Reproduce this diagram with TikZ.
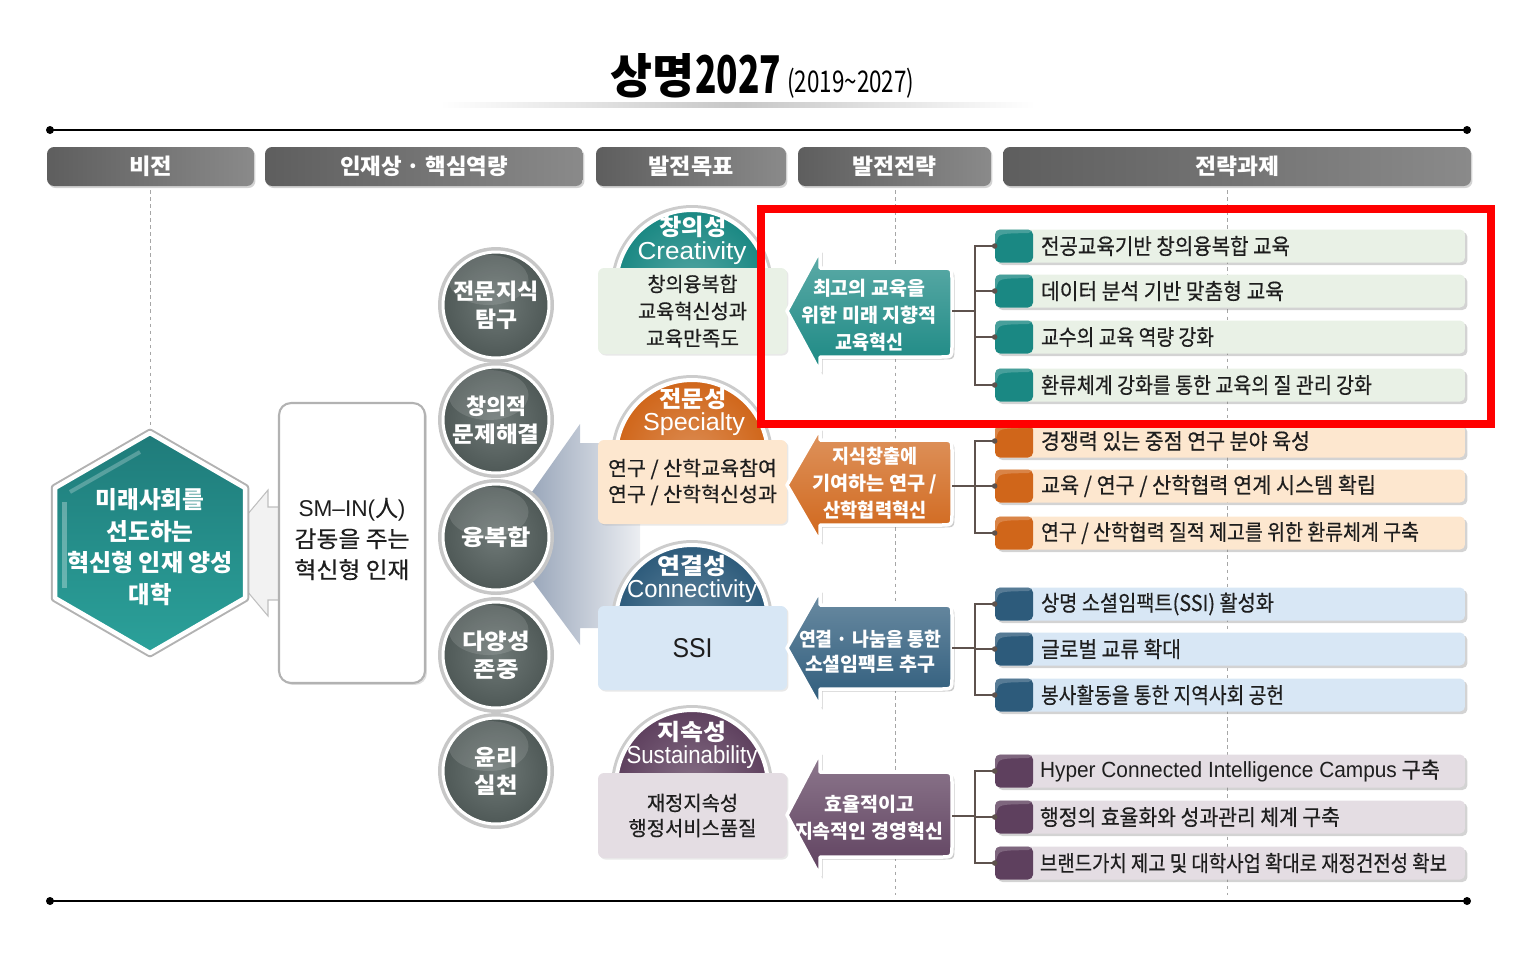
\documentclass[tikz,border=0pt]{standalone}
\usepackage{fontspec}
\usepackage{graphicx}
\newfontfamily\kr{Noto Sans CJK KR}
\newfontfamily\krm[FakeBold=0.5]{Noto Sans CJK KR}
\newfontfamily\ar{Liberation Sans}
\usetikzlibrary{shadows}
\newsavebox\fitbox
\newcommand\fitw[2]{\sbox\fitbox{#2}\pgfmathsetmacro\fitsx{#1*0.569055/\the\wd\fitbox}\scalebox{\fitsx}[1]{\usebox\fitbox}}
\definecolor{tealA}{HTML}{1A8883}
\definecolor{tealL}{HTML}{E9F1E6}
\definecolor{oraA}{HTML}{D0661A}
\definecolor{oraL}{HTML}{FDE7CF}
\definecolor{bluA}{HTML}{2D5B7B}
\definecolor{bluL}{HTML}{D8E7F5}
\definecolor{purA}{HTML}{5E405E}
\definecolor{purL}{HTML}{E4DDE3}
\definecolor{hdrA}{HTML}{5E5E5E}
\definecolor{hdrB}{HTML}{8A8A8A}
\definecolor{cirG}{HTML}{4F5957}
\definecolor{cirL}{HTML}{6E7876}
\definecolor{hexA}{HTML}{1F7B7A}
\definecolor{hexB}{HTML}{2BA19A}
\definecolor{wedgeA}{HTML}{8393AB}
\definecolor{wedgeB}{HTML}{ECEEF2}
\definecolor{connc}{HTML}{5E524D}
\definecolor{txt}{HTML}{1E1E1E}
\begin{document}
\begin{tikzpicture}[x=0.02cm,y=-0.02cm,
  hdr/.style={rounded corners=0.14cm, minimum height=0.78cm, inner sep=0pt, left color=hdrA, right color=hdrB, text=white, font=\kr\bfseries\fontsize{12.5}{15}\selectfont, drop shadow={opacity=0.35,shadow xshift=0.03cm,shadow yshift=-0.04cm}},
  dline/.style={draw=black!35, line width=0.5pt, dash pattern=on 2pt off 2pt},
  rulest/.style={draw=black, line width=0.05cm},
  gcirc/.style={circle, minimum size=2.12cm, inner sep=0pt, inner color=cirL, outer color=cirG, draw=white, line width=0.06cm, preaction={draw=black!22, line width=0.2cm}, text=white, align=center, font=\kr\bfseries\fontsize{12.5}{15.9}\selectfont, path picture={\fill[white,opacity=0.12] ([xshift=-0.15cm,yshift=0.5cm]path picture bounding box.center) ellipse (0.8cm and 0.5cm);}},
  domek/.style={text=white, inner sep=0pt, font=\kr\bfseries\fontsize{13}{15}\selectfont},
  domel/.style={text=white, inner sep=0pt, font=\ar\fontsize{14}{16}\selectfont},
  gbox/.style={rectangle, rounded corners=0.12cm, minimum width=3.78cm, inner sep=0pt, align=center, text=txt, font=\krm\fontsize{11.5}{15.4}\selectfont, drop shadow={opacity=0.18, shadow xshift=0.03cm, shadow yshift=-0.03cm}},
  arr/.style={draw=white, line width=0.07cm, line join=round, drop shadow={opacity=0.4, shadow xshift=0.05cm, shadow yshift=-0.05cm}},
  atxt/.style={text=white, align=center, inner sep=0pt, font=\kr\bfseries\fontsize{11}{15.4}\selectfont},
  conn/.style={draw=connc, line width=0.04cm},
  item/.style 2 args={rectangle, rounded corners=0.1cm, minimum width=9.4cm, minimum height=0.66cm, inner sep=0pt, fill=#2, drop shadow={opacity=0.35, shadow xshift=0.05cm, shadow yshift=-0.05cm}, path picture={\fill[#1] (path picture bounding box.south west) rectangle ([xshift=0.76cm]path picture bounding box.north west); \fill[white,opacity=0.2] ([yshift=-0.34cm]path picture bounding box.north west) .. controls ([xshift=0.08cm,yshift=-0.08cm]path picture bounding box.north west) .. ([xshift=0.76cm,yshift=-0.07cm]path picture bounding box.north west) -- ([xshift=0.76cm]path picture bounding box.north west) -- (path picture bounding box.north west) -- cycle;}},
  itxt/.style={anchor=west, inner sep=0pt, text=txt, font=\krm\fontsize{12.5}{15}\selectfont}
]
\useasboundingbox (0,0) rectangle (1520,954);
% title
\shade[left color=white, right color=white, middle color=black!22] (440,102) rectangle (1035,107);
\node[anchor=base west, inner sep=0pt, font=\kr\bfseries\fontsize{27}{30}\selectfont] (tA) at (610,93) {\fitw{84}{상명}};
\node[anchor=base west, inner sep=0pt, font=\kr\bfseries\fontsize{29.6}{32}\selectfont] (tB) at (695,93) {\fitw{86}{2027}};
\node[anchor=base west, inner sep=0pt, font=\kr\fontsize{17}{20}\selectfont] (tC) at (787,92) {\fitw{127}{(2019\textasciitilde2027)}};
% rules
\coordinate (r1a) at (50,130); \coordinate (r1b) at (1467,130);
\coordinate (r2a) at (50,901); \coordinate (r2b) at (1467,901);
\draw[rulest] (r1a) -- (r1b); \draw[rulest] (r2a) -- (r2b);
\fill (r1a) circle (0.08cm); \fill (r1b) circle (0.08cm);
\fill (r2a) circle (0.08cm); \fill (r2b) circle (0.08cm);
% headers
\node[hdr, minimum width=4.14cm] (h1) at (150.5,166.5) {\fitw{43}{비전}};
\node[hdr, minimum width=6.36cm] (h2) at (424,166.5) {\fitw{168}{인재상 · 핵심역량}};
\node[hdr, minimum width=3.8cm] (h3) at (691,166.5) {\fitw{85}{발전목표}};
\node[hdr, minimum width=3.86cm] (h4) at (894.5,166.5) {\fitw{84}{발전전략}};
\node[hdr, minimum width=9.36cm] (h5) at (1237,166.5) {\fitw{84}{전략과제}};
% dashed guides
\draw[dline] (150,190) -- (150,432);
\draw[dline] (895,190) -- (895,895);
\draw[dline] (1227,190) -- (1227,895);
% wedge
\shade[left color=wedgeA, right color=wedgeB] (500,537) -- (580,424) -- (580,443) -- (640,443) -- (640,628) -- (580,628) -- (580,645) -- cycle;
% hexagon tail
\filldraw[fill=black!5, draw=black!25, line width=0.6pt] (215,553) -- (268,490) -- (268,507) -- (285,507) -- (285,600) -- (268,600) -- (268,616) -- cycle;
% hexagon
\draw[black!30, line width=0.17cm, line join=round] (150,433) -- (245,488) -- (245,598) -- (150,653) -- (55,598) -- (55,488) -- cycle;
\path[top color=hexA, bottom color=hexB, draw=white, line width=0.09cm, line join=round] (150,433) -- (245,488) -- (245,598) -- (150,653) -- (55,598) -- (55,488) -- cycle;
\draw[white, opacity=0.3, line width=0.1cm] (64,502) -- (64,588);
\draw[white, opacity=0.25, line width=0.08cm] (70,492) -- (140,452);
\node[text=white, align=center, inner sep=0pt, font=\kr\bfseries\fontsize{13.5}{18}\selectfont] (hex) at (150,547) {\fitw{109}{미래사회를}\\\fitw{87}{선도하는}\\\fitw{166}{혁신형 인재 양성}\\\fitw{43}{대학}};
% ideal box
\node[draw=black!30, line width=1.2pt, fill=white, rounded corners=0.24cm, minimum width=2.92cm, minimum height=5.6cm, drop shadow={opacity=0.25, shadow xshift=0.04cm, shadow yshift=-0.04cm}] (ideal) at (352,543) {};
\node[align=center, inner sep=0pt, text=txt, font=\krm\fontsize{13}{17.6}\selectfont] (idealtxt) at (352,539) {\fitw{107}{{\ar SM–IN(}人{\ar )}}\\\fitw{115}{감동을 주는}\\\fitw{115}{혁신형 인재}};
% competency circles
\node[gcirc] (c1) at (496,305) {\fitw{85}{전문지식}\\\fitw{42}{탐구}};
\node[gcirc] (c2) at (496,420) {\fitw{60}{창의적}\\\fitw{87}{문제해결}};
\node[gcirc] (c3) at (496,537) {\fitw{70}{융복합}};
\node[gcirc] (c4) at (496,655) {\fitw{68}{다양성}\\\fitw{45}{존중}};
\node[gcirc] (c5) at (496,771) {\fitw{43}{윤리}\\\fitw{43}{실천}};
% domes
\begin{scope}
\clip (590,195) rectangle (795,350);
\fill[black!20] (692,286) circle (1.62cm);
\shadedraw[inner color=tealA!75!white, outer color=tealA, draw=white, line width=0.08cm] (692,286) circle (1.52cm);
\end{scope}
\begin{scope}
\clip (590,360) rectangle (795,520);
\fill[black!20] (692,456) circle (1.62cm);
\shadedraw[inner color=oraA!75!white, outer color=oraA, draw=white, line width=0.08cm] (692,456) circle (1.52cm);
\end{scope}
\begin{scope}
\clip (590,528) rectangle (795,686);
\fill[black!20] (692,621) circle (1.62cm);
\shadedraw[inner color=bluA!75!white, outer color=bluA, draw=white, line width=0.08cm] (692,621) circle (1.52cm);
\end{scope}
\begin{scope}
\clip (590,693) rectangle (795,854);
\fill[black!20] (692,786) circle (1.62cm);
\shadedraw[inner color=purA!75!white, outer color=purA, draw=white, line width=0.08cm] (692,786) circle (1.52cm);
\end{scope}
\node[domek] (d1a) at (693,227) {\fitw{67}{창의성}};
\node[domel] (d1b) at (692,253) {\fitw{109}{Creativity}};
\node[domek] (d2a) at (693,399) {\fitw{67}{전문성}};
\node[domel] (d2b) at (694,424) {\fitw{102}{Specialty}};
\node[domek] (d3a) at (692,566) {\fitw{69}{연결성}};
\node[domel] (d3b) at (692,591) {\fitw{130}{Connectivity}};
\node[domek] (d4a) at (692,732) {\fitw{69}{지속성}};
\node[domel] (d4b) at (692,757) {\fitw{131}{Sustainability}};
% goal boxes
\node[gbox, fill=tealL, minimum height=1.72cm] (b1) at (692.5,311) {\fitw{90}{창의융복합}\\\fitw{109}{교육혁신성과}\\\fitw{93}{교육만족도}};
\node[gbox, fill=oraL, minimum height=1.68cm, font=\krm\fontsize{11.5}{14.8}\selectfont] (b2) at (692.5,482) {\fitw{169}{연구 / 산학교육참여}\\\fitw{169}{연구 / 산학혁신성과}};
\node[gbox, fill=bluL, minimum height=1.68cm, font=\ar\fontsize{15.5}{18}\selectfont] (b3) at (692.5,648) {\fitw{40}{SSI}};
\node[gbox, fill=purL, minimum height=1.7cm, font=\krm\fontsize{11.5}{14.3}\selectfont] (b4) at (692.5,815.5) {\fitw{91}{재정지속성}\\\fitw{128}{행정서비스품질}};
% strategy arrows
\path[arr, top color=tealA!70!white, bottom color=tealA] (787,311) -- (820,250) -- (820,268) -- (940,268) .. controls (952,268) .. (952,280) -- (952,345) .. controls (952,357) .. (940,357) -- (820,357) -- (820,372) -- cycle;
\path[arr, top color=oraA!70!white, bottom color=oraA] (787,485) -- (820,428) -- (820,440) -- (940,440) .. controls (952,440) .. (952,452) -- (952,513) .. controls (952,525) .. (940,525) -- (820,525) -- (820,542) -- cycle;
\path[arr, top color=bluA!70!white, bottom color=bluA] (787,648) -- (820,590) -- (820,605) -- (940,605) .. controls (952,605) .. (952,617) -- (952,677) .. controls (952,689) .. (940,689) -- (820,689) -- (820,707) -- cycle;
\path[arr, top color=purA!70!white, bottom color=purA] (787,815) -- (820,752) -- (820,772) -- (940,772) .. controls (952,772) .. (952,784) -- (952,845) .. controls (952,857) .. (940,857) -- (820,857) -- (820,876) -- cycle;
\node[atxt] (s1) at (869,315) {\fitw{112}{최고의 교육을}\\\fitw{135}{위한 미래 지향적}\\\fitw{68}{교육혁신}};
\node[atxt] (s2) at (875,483) {\fitw{85}{지식창출에}\\\fitw{125}{기여하는 연구 /}\\\fitw{103}{산학협력혁신}};
\node[atxt, font=\kr\bfseries\fontsize{11}{14.2}\selectfont] (s3) at (870,652) {\fitw{142}{연결 · 나눔을 통한}\\\fitw{130}{소셜임팩트 추구}};
\node[atxt] (s4) at (869,818) {\fitw{90}{효율적이고}\\\fitw{148}{지속적인 경영혁신}};
% strategy items
\node[item={tealA}{tealL}] (i1) at (1230,246) {};
\node[item={tealA}{tealL}] (i2) at (1230,291) {};
\node[item={tealA}{tealL}] (i3) at (1230,337) {};
\node[item={tealA}{tealL}] (i4) at (1230,385) {};
\node[item={oraA}{oraL}] (i5) at (1230,441) {};
\node[item={oraA}{oraL}] (i6) at (1230,486) {};
\node[item={oraA}{oraL}] (i7) at (1230,533) {};
\node[item={bluA}{bluL}] (i8) at (1230,604) {};
\node[item={bluA}{bluL}] (i9) at (1230,649) {};
\node[item={bluA}{bluL}] (i10) at (1230,695) {};
\node[item={purA}{purL}] (i11) at (1230,771) {};
\node[item={purA}{purL}] (i12) at (1230,817) {};
\node[item={purA}{purL}] (i13) at (1230,863) {};
\node[itxt] (i1t) at ([xshift=0.92cm]i1.west) {\fitw{249}{전공교육기반 창의융복합 교육}};
\node[itxt] (i2t) at ([xshift=0.92cm]i2.west) {\fitw{243}{데이터 분석 기반 맞춤형 교육}};
\node[itxt] (i3t) at ([xshift=0.92cm]i3.west) {\fitw{173}{교수의 교육 역량 강화}};
\node[itxt] (i4t) at ([xshift=0.92cm]i4.west) {\fitw{331}{환류체계 강화를 통한 교육의 질 관리 강화}};
\node[itxt] (i5t) at ([xshift=0.92cm]i5.west) {\fitw{269}{경쟁력 있는 중점 연구 분야 육성}};
\node[itxt] (i6t) at ([xshift=0.92cm]i6.west) {\fitw{335}{교육 / 연구 / 산학협력 연계 시스템 확립}};
\node[itxt] (i7t) at ([xshift=0.92cm]i7.west) {\fitw{378}{연구 / 산학협력 질적 제고를 위한 환류체계 구축}};
\node[itxt] (i8t) at ([xshift=0.92cm]i8.west) {\fitw{233}{상명 소셜임팩트(SSI) 활성화}};
\node[itxt] (i9t) at ([xshift=0.92cm]i9.west) {\fitw{140}{글로벌 교류 확대}};
\node[itxt] (i10t) at ([xshift=0.92cm]i10.west) {\fitw{243}{봉사활동을 통한 지역사회 공헌}};
\node[itxt] (i11t) at ([xshift=0.9cm]i11.west) {\fitw{400}{{\ar Hyper Connected Intelligence Campus} 구축}};
\node[itxt] (i12t) at ([xshift=0.9cm]i12.west) {\fitw{300}{행정의 효율화와 성과관리 체계 구축}};
\node[itxt] (i13t) at ([xshift=0.9cm]i13.west) {\fitw{407}{브랜드가치 제고 및 대학사업 확대로 재정건전성 확보}};
% connectors
\coordinate (a1e) at (952,311); \coordinate (t1) at (975,311);
\coordinate (a2e) at (952,486); \coordinate (t2) at (975,486);
\coordinate (a3e) at (952,648); \coordinate (t3) at (975,648);
\coordinate (a4e) at (952,816); \coordinate (t4) at (975,816);
\draw[conn] (a1e) -- (t1);
\draw[conn] (a2e) -- (t2);
\draw[conn] (a3e) -- (t3);
\draw[conn] (a4e) -- (t4);
\foreach \n in {i1,i2,i3,i4} {\draw[conn] (t1) |- (\n.west); \fill[connc] (\n.west) circle (0.055cm);}
\foreach \n in {i5,i6,i7} {\draw[conn] (t2) |- (\n.west); \fill[connc] (\n.west) circle (0.055cm);}
\foreach \n in {i8,i9,i10} {\draw[conn] (t3) |- (\n.west); \fill[connc] (\n.west) circle (0.055cm);}
\foreach \n in {i11,i12,i13} {\draw[conn] (t4) |- (\n.west); \fill[connc] (\n.west) circle (0.055cm);}
% highlight frame
\draw[red, line width=0.16cm] (761,209) rectangle (1491,424);
\end{tikzpicture}
\end{document}
